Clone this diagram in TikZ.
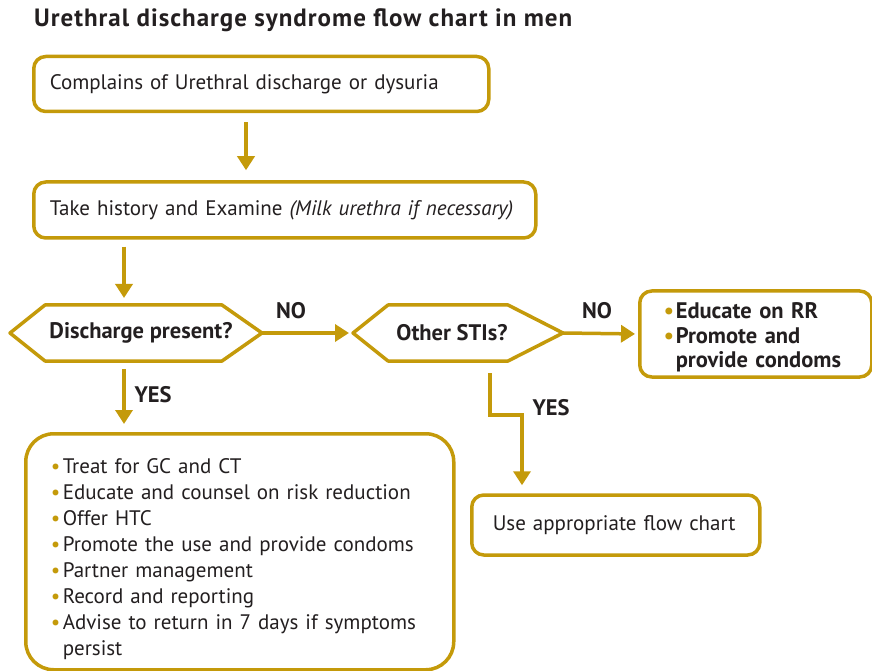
\documentclass[tikz,border=0pt]{standalone}
\usepackage{fontspec}
\setmainfont{PT Sans}
\usetikzlibrary{arrows.meta,positioning,calc}
\definecolor{gold}{RGB}{196,154,10}
\definecolor{ink}{RGB}{35,31,32}
\newcommand{\itm}{\makebox[12pt][l]{\textcolor{gold}{\textbullet}}}

\begin{document}
\begin{tikzpicture}[line cap=round,line join=round,x=1pt,y=1pt,
    box/.style={draw=gold,line width=3.5pt,rounded corners=12pt,fill=white,text=ink,
        align=left,inner xsep=16pt,inner ysep=0pt,anchor=west,font=\fontsize{21}{26}\selectfont},
    hexa/.style={text=ink,font=\bfseries\fontsize{22.5}{26}\selectfont,inner sep=0pt},
    arr/.style={draw=gold,line width=3.5pt,line cap=butt,-{Triangle[length=14pt,width=17pt]}},
    lbl/.style={text=ink,font=\bfseries\fontsize{22.5}{26}\selectfont}]
                \useasboundingbox (0,0) rectangle (872,670);
                \node[text=ink,font=\bfseries\fontsize{25}{28}\selectfont\addfontfeatures{LetterSpace=4},anchor=west,inner sep=0pt] (title) at (34,650) {Urethral discharge syndrome flow chart in men};
                % boxes
                \node[box,text width=423pt,minimum height=55pt] (complain) at (32,586) {Complains of Urethral discharge or dysuria};
                \node[box,text width=470pt,minimum height=56pt] (history) at (32,460) {Take history and Examine \textit{(Milk urethra if necessary)}};
                \node[hexa] (dis) at (141,337) {Discharge present?};
                \node[hexa] (sti) at (452,337) {Other STIs?};
                \node[box,text width=184pt,minimum height=86pt,inner xsep=24pt,
                    font=\bfseries\fontsize{22.5}{24.5}\selectfont] (educ) at (638,336)
                    {\rule{0pt}{23pt}\itm Educate on RR\\ \itm Promote and\\ \phantom{\itm}provide condoms};
                \node[box,text width=378pt,minimum height=236pt,rounded corners=28pt,inner xsep=25pt,anchor=north west] (treat) at (24,238)
                    {\rule{0pt}{29pt}\itm Treat for GC and CT\\
                     \itm Educate and counsel on risk reduction\\
                     \itm Offer HTC\\
                     \itm Promote the use and provide condoms\\
                     \itm Partner management\\
                     \itm Record and reporting\\
                     \itm Advise to return in 7 days if symptoms\\
                     \phantom{\itm}persist};
                \node[box,text width=246pt,minimum height=60pt,inner xsep=21pt] (chart) at (470,145) {Use appropriate flow chart};
                % hexagon outlines
                \coordinate (disL) at ($(dis)+(-131,0)$);
                \coordinate (disR) at ($(dis)+(121,0)$);
                \coordinate (disT) at ($(dis)+(0,28)$);
                \coordinate (disB) at ($(dis)+(0,-28)$);
                \coordinate (stiL) at ($(sti)+(-99,0)$);
                \coordinate (stiR) at ($(sti)+(111,0)$);
                \coordinate (stiB) at ($(sti)+(0,-28)$);
                \draw[draw=gold,line width=3.5pt] ($(dis)+(-96,28)$) -- ($(dis)+(81,28)$) -- (disR) -- ($(dis)+(81,-28)$) -- ($(dis)+(-96,-28)$) -- (disL) -- cycle;
                \draw[draw=gold,line width=3.5pt] ($(sti)+(-64,28)$) -- ($(sti)+(56,28)$) -- (stiR) -- ($(sti)+(56,-28)$) -- ($(sti)+(-64,-28)$) -- (stiL) -- cycle;
                % connectors
                \coordinate (c1) at (246,0);
                \coordinate (c2) at (124,0);
                \coordinate (c3) at (490,0);
                \coordinate (c4) at (522,255);
                \draw[arr,shorten <=9pt,shorten >=10pt] (complain.south -| c1) -- (history.north -| c1);
                \draw[arr,shorten <=7pt,shorten >=7pt] (history.south -| c2) -- (disT -| c2);
                \draw[arr,shorten >=4pt] (disR) -- (stiL);
                \draw[arr,shorten >=3pt] (stiR) -- (educ.west);
                \draw[arr,shorten <=8pt,shorten >=8pt] (disB -| c2) -- (treat.north -| c2);
                \draw[arr,line join=miter,shorten <=12pt,shorten >=8pt] (stiB -| c3) |- (c4) -- (chart.north -| c4);
                % labels
                \node[lbl] (no1) at (291,359) {NO};
                \node[lbl] (no2) at (597,359) {NO};
                \node[lbl] (yes1) at (153,275) {YES};
                \node[lbl] (yes2) at (551,262) {YES};
            \end{tikzpicture}
\end{document}
